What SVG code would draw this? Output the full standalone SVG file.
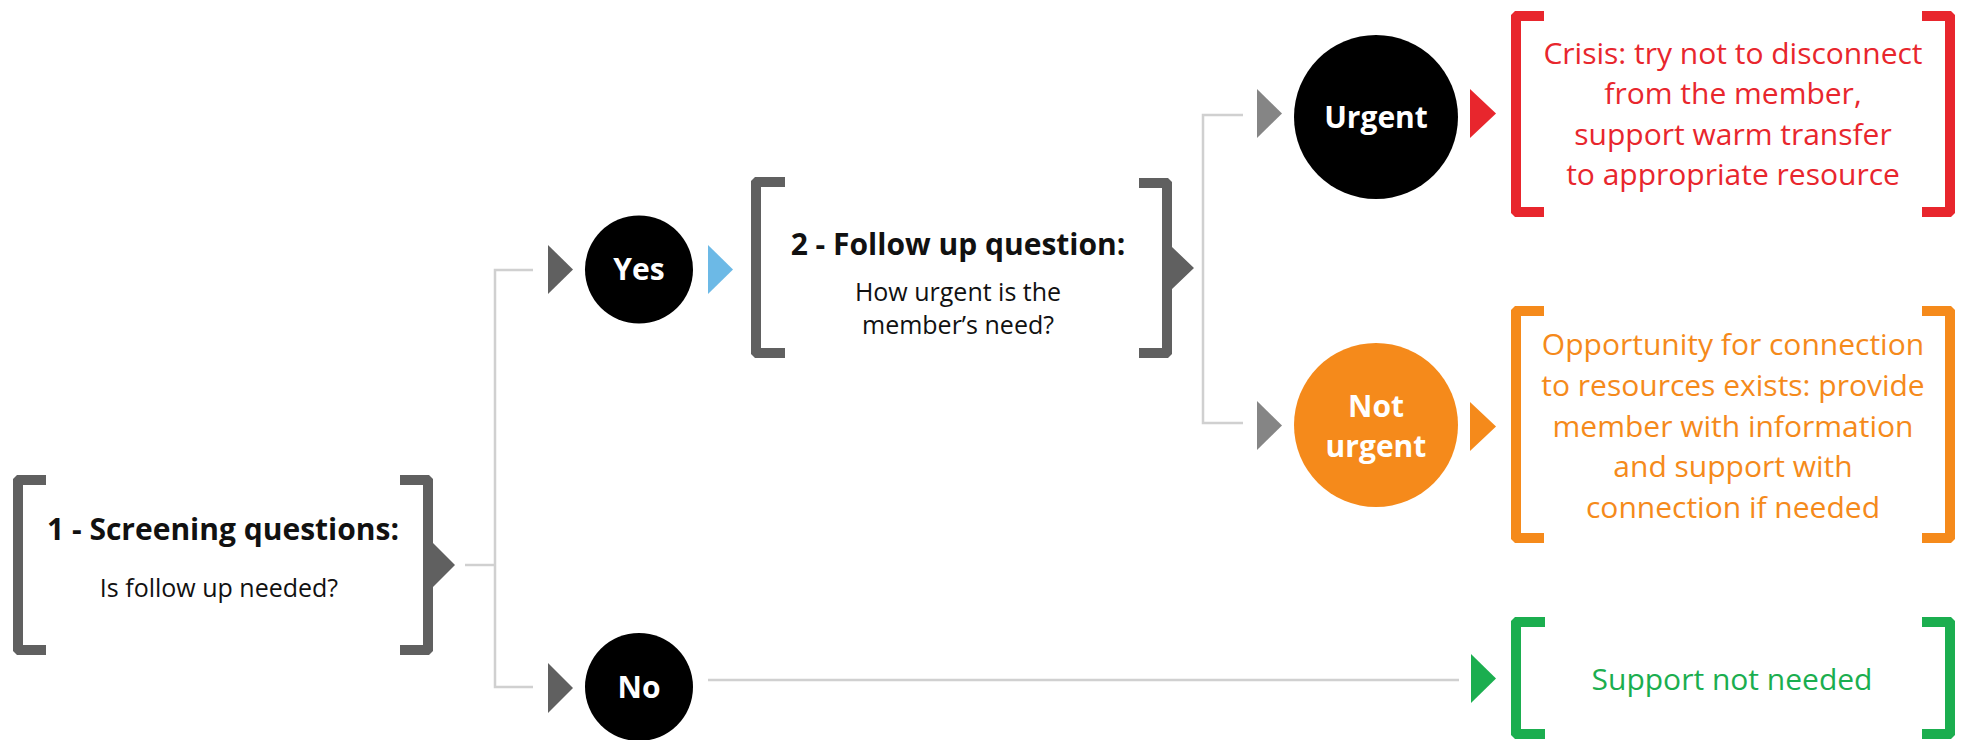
<svg xmlns="http://www.w3.org/2000/svg" width="1965" height="740" viewBox="0 0 1965 740">
<style>
  text { font-family: "Open Sans", "Noto Sans", "Liberation Sans", sans-serif; text-anchor: middle; }
  .title { font-size: 30px; font-weight: 700; fill: #111111; }
  .sub { font-size: 25px; fill: #111111; }
  .lbl { font-size: 30px; font-weight: 700; fill: #ffffff; }
  .out { font-size: 30px; }
  .conn { fill: none; stroke: #d0d0d0; stroke-width: 2.5; }
  .dark { fill: #606060; }
  .mid { fill: #858585; }
</style>
<rect width="1965" height="740" fill="#ffffff"/>

<g id="connectors">
  <path class="conn" d="M465 565 H495"/>
  <path class="conn" d="M533 270 H495 V687 H533"/>
  <path class="conn" d="M1243 115 H1203 V423 H1243"/>
  <path class="conn" d="M708 680 H1459"/>
  <polygon class="dark" points="548,245 573,269.5 548,294"/>
  <polygon class="dark" points="548,663 573,688 548,713"/>
  <polygon fill="#6cb9e6" points="708,245 733,269.5 708,294"/>
  <polygon class="mid" points="1257,89 1282,113.5 1257,138"/>
  <polygon class="mid" points="1257,401 1282,425.5 1257,450"/>
  <polygon fill="#e8262d" points="1470,89 1496,113.5 1470,138"/>
  <polygon fill="#f58a1b" points="1470,402 1496,426.5 1470,451"/>
  <polygon fill="#1bae4f" points="1471,654 1496,678.5 1471,703"/>
</g>

<g id="screening">
  <path class="dark" d="M46 475 H17 L13 479 V651 L17 655 H46 V645 H23 V485 H46 Z"/>
  <path class="dark" d="M400 475 H429 L433 479 V543 L455 565 L433 587 V651 L429 655 H400 V645 H423 V485 H400 Z"/>
  <text class="title" x="223" y="540">1 - Screening questions:</text>
  <text class="sub" x="219" y="597">Is follow up needed?</text>
</g>

<g id="yes">
  <circle cx="639" cy="269.5" r="54" fill="#000000"/>
  <text class="lbl" x="639" y="280">Yes</text>
</g>

<g id="no">
  <circle cx="639" cy="687" r="54" fill="#000000"/>
  <text class="lbl" x="639" y="698">No</text>
</g>

<g id="followup">
  <path class="dark" d="M785 177 H755 L751 181 V354 L755 358 H785 V348 H761 V187 H785 Z"/>
  <path class="dark" d="M1139 178 H1168 L1172 182 V247 L1194 268 L1172 289 V354 L1168 358 H1139 V348 H1162 V188 H1139 Z"/>
  <text class="title" x="958" y="255">2 - Follow up question:</text>
  <text class="sub" x="958" y="301">How urgent is the</text>
  <text class="sub" x="958" y="334">member’s need?</text>
</g>

<g id="urgent">
  <circle cx="1376" cy="117" r="82" fill="#000000"/>
  <text class="lbl" x="1376" y="128">Urgent</text>
</g>

<g id="noturgent">
  <circle cx="1376" cy="425" r="82" fill="#f58a1b"/>
  <text class="lbl" x="1376" y="417">Not</text>
  <text class="lbl" x="1376" y="457">urgent</text>
</g>

<g id="crisis">
  <path fill="#e8262d" d="M1544 11 H1515 L1511 15 V213 L1515 217 H1544 V207 H1521 V21 H1544 Z"/>
  <path fill="#e8262d" d="M1922 11 H1951 L1955 15 V213 L1951 217 H1922 V207 H1945 V21 H1922 Z"/>
  <text class="out" fill="#e8262d" x="1733" y="64">Crisis: try not to disconnect</text>
  <text class="out" fill="#e8262d" x="1733" y="104">from the member,</text>
  <text class="out" fill="#e8262d" x="1733" y="145">support warm transfer</text>
  <text class="out" fill="#e8262d" x="1733" y="185">to appropriate resource</text>
</g>

<g id="opportunity">
  <path fill="#f58a1b" d="M1544 306 H1515 L1511 310 V539 L1515 543 H1544 V533 H1521 V316 H1544 Z"/>
  <path fill="#f58a1b" d="M1922 306 H1951 L1955 310 V539 L1951 543 H1922 V533 H1945 V316 H1922 Z"/>
  <text class="out" fill="#f58a1b" x="1733" y="355">Opportunity for connection</text>
  <text class="out" fill="#f58a1b" x="1733" y="396">to resources exists: provide</text>
  <text class="out" fill="#f58a1b" x="1733" y="437">member with information</text>
  <text class="out" fill="#f58a1b" x="1733" y="477">and support with</text>
  <text class="out" fill="#f58a1b" x="1733" y="518">connection if needed</text>
</g>

<g id="notneeded">
  <path fill="#1bae4f" d="M1545 617 H1515 L1511 621 V735 L1515 739 H1545 V729 H1521 V627 H1545 Z"/>
  <path fill="#1bae4f" d="M1922 617 H1951 L1955 621 V735 L1951 739 H1922 V729 H1945 V627 H1922 Z"/>
  <text class="out" fill="#1bae4f" x="1732" y="690">Support not needed</text>
</g>
</svg>
